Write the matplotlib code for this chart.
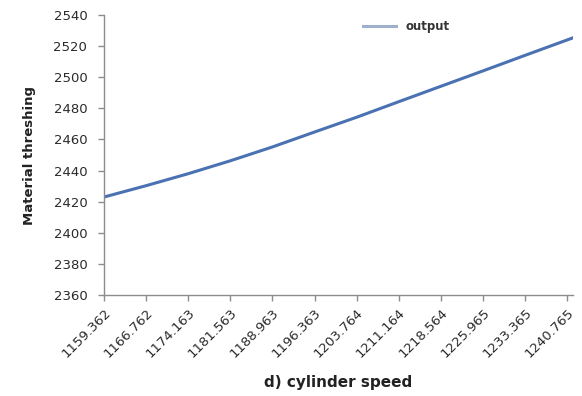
import matplotlib.pyplot as plt

# cylinder speed (category labels on the x axis)
speed = [1159.362, 1166.762, 1174.163, 1181.563, 1188.963, 1196.363,
         1203.764, 1211.164, 1218.564, 1225.965, 1233.365, 1240.765, 1241.8]
# material threshing output
output = [2423.0, 2430.3, 2438.0, 2446.3, 2455.2, 2464.8,
          2474.3, 2484.3, 2494.2, 2504.1, 2514.1, 2524.0, 2525.4]
tick_labels = ['1159.362', '1166.762', '1174.163', '1181.563', '1188.963', '1196.363',
               '1203.764', '1211.164', '1218.564', '1225.965', '1233.365', '1240.765']
y_ticks = list(range(2360, 2541, 20))

fig = plt.figure(figsize=(5.82, 3.96), dpi=100)
ax = fig.add_axes([0.1787, 0.255, 0.806, 0.707])

ax.plot(speed, output, color='#4a72b2', lw=2.2, label='output')

ax.set_xlim(speed[0], speed[-1])
ax.set_ylim(2360, 2540)
ax.set_yticks(y_ticks)
ax.set_xticks(speed[:-1])
ax.set_xticklabels(tick_labels, rotation=45, ha='right', va='top',
                   rotation_mode='anchor')

# excel-like axes: only left and bottom, grey
for side in ['top', 'right']:
    ax.spines[side].set_visible(False)
for side in ['left', 'bottom']:
    ax.spines[side].set_color('#8c8c8c')
    ax.spines[side].set_linewidth(1.0)
ax.tick_params(axis='both', direction='out', length=4, width=1, color='#8c8c8c',
               labelcolor='#2a2a2a', labelsize=9.5)
ax.tick_params(axis='x', pad=4)
ax.tick_params(axis='y', pad=8)

ax.set_xlabel('d) cylinder speed', fontsize=11, fontweight='bold', color='#222222')
ax.xaxis.set_label_coords(0.5, -0.285)
ax.set_ylabel('Material threshing', fontsize=9.5, fontweight='bold', color='#222222')
ax.yaxis.set_label_coords(-0.145, 0.5)

leg = ax.legend(loc='upper left', bbox_to_anchor=(0.53, 1.02), frameon=False,
                handlelength=2.8, prop={'weight': 'bold', 'size': 8.5})
leg.get_lines()[0].set_color('#9fb0cc')
for t in leg.get_texts():
    t.set_color('#333333')

fig.savefig('out.png', dpi=100)
